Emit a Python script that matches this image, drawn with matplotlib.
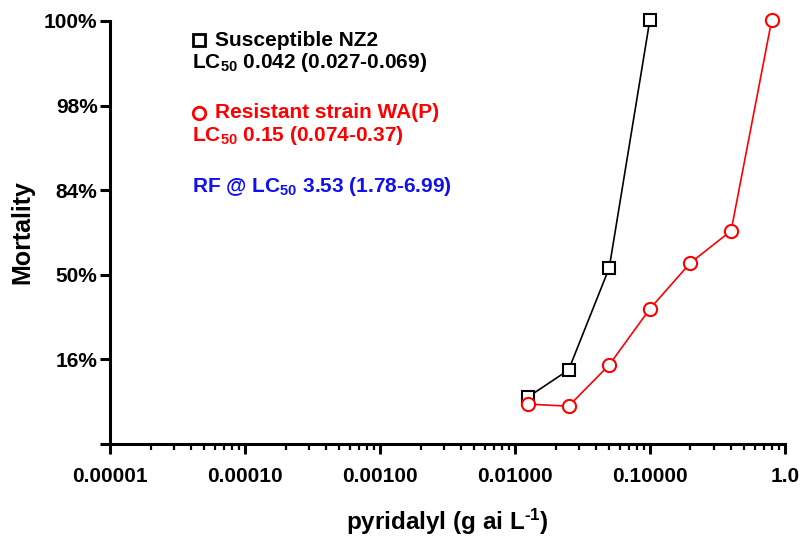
import numpy as np
import matplotlib
matplotlib.use("Agg")
import matplotlib.pyplot as plt
from matplotlib.ticker import FixedLocator, LogLocator, NullFormatter
from statistics import NormalDist

plt.rcParams['font.family'] = ['Liberation Sans', 'DejaVu Sans']
plt.rcParams['font.weight'] = 'bold'
plt.rcParams['mathtext.fontset'] = 'custom'
plt.rcParams['mathtext.rm'] = 'Liberation Sans:bold'
plt.rcParams['mathtext.bf'] = 'Liberation Sans:bold'
plt.rcParams['mathtext.it'] = 'Liberation Sans:bold'

# dose (g ai / L) and mortality (%)
dose_s = [0.0125, 0.025, 0.05, 0.1]
mort_s = [7.4, 13.0, 53.2, 100]
dose_r = [0.0125, 0.025, 0.05, 0.1, 0.2, 0.4, 0.8]
mort_r = [6.3, 6.0, 14.3, 34.3, 55.6, 69.8, 100]

y_tick_labels = ['16%', '50%', '84%', '98%', '100%']
x_tick_vals = [1e-5, 1e-4, 1e-3, 1e-2, 1e-1, 1]
x_tick_labels = ['0.00001', '0.00010', '0.00100', '0.01000', '0.10000', '1.0']


def probit(p):
    # 100% is drawn at the top of the axis (3 probit units)
    p = min(p, 99.87)
    return NormalDist().inv_cdf(p / 100.0)


fig = plt.figure(figsize=(8, 5.38), dpi=100)
ax = fig.add_axes([0.1375, 0.175, 0.8435, 0.786])

ax.plot(dose_s, [probit(v) for v in mort_s], color='black', lw=1.2,
        marker='s', ms=9, mfc='white', mec='black', mew=1.5, zorder=3,
        clip_on=False)
ax.plot(dose_r, [probit(v) for v in mort_r], color='red', lw=1.2,
        marker='o', ms=9.5, mfc='white', mec='red', mew=1.5, zorder=3,
        clip_on=False)

ax.set_xscale('log')
ax.set_xlim(1e-5, 1)
ax.set_ylim(-2, 3)
ax.xaxis.set_major_locator(FixedLocator(x_tick_vals))
ax.set_xticklabels(x_tick_labels)
ax.xaxis.set_minor_locator(LogLocator(base=10, subs=np.arange(2, 10)))
ax.xaxis.set_minor_formatter(NullFormatter())
ax.set_yticks([-2, -1, 0, 1, 2, 3])
ax.set_yticklabels([''] + y_tick_labels)

for s in ['top', 'right']:
    ax.spines[s].set_visible(False)
for s in ['left', 'bottom']:
    ax.spines[s].set_linewidth(2.2)
ax.tick_params(axis='both', which='major', length=7.5, width=2.2, labelsize=15)
ax.tick_params(axis='x', which='minor', length=4.5, width=1.6)
ax.tick_params(axis='x', pad=9)
ax.tick_params(axis='y', pad=1.5)

ax.set_xlabel('pyridalyl (g ai L$^{\\text{-1}}$)', fontsize=17.5, fontweight='bold', labelpad=15)
ax.set_ylabel('Mortality', fontsize=18, fontweight='bold', labelpad=7)

# legend-style annotation block
tx = 192 / 800
def fy(py):
    return 1 - py / 538

ax.plot([199 / 800], [fy(40)], transform=fig.transFigure, marker='s', ms=9,
        mfc='white', mec='black', mew=2, clip_on=False)
fig.text(215 / 800, fy(40), 'Susceptible NZ2', fontsize=15, fontweight='bold',
         color='black', va='center')
fig.text(tx, fy(63), 'LC$_{50}$ 0.042 (0.027-0.069)', fontsize=15,
         fontweight='bold', color='black', va='center')

ax.plot([199 / 800], [fy(113)], transform=fig.transFigure, marker='o', ms=9,
        mfc='white', mec='red', mew=2, clip_on=False)
fig.text(215 / 800, fy(113), 'Resistant strain WA(P)', fontsize=15,
         fontweight='bold', color='red', va='center')
fig.text(tx, fy(136), 'LC$_{50}$ 0.15 (0.074-0.37)', fontsize=15,
         fontweight='bold', color='red', va='center')

fig.text(tx, fy(186), 'RF @ LC$_{50}$ 3.53 (1.78-6.99)', fontsize=15,
         fontweight='bold', color='#1010f0', va='center')

fig.savefig('out.png', dpi=100)
